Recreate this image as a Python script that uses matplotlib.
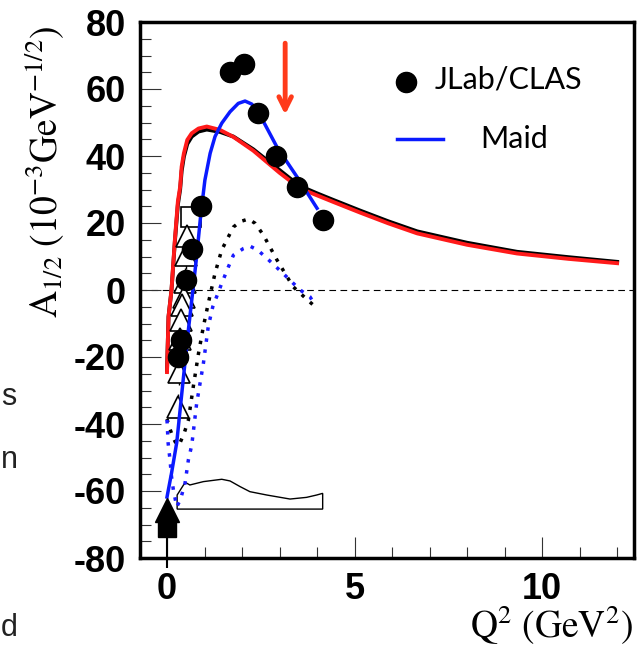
import numpy as np
import matplotlib
matplotlib.use("Agg")
import matplotlib.pyplot as plt

plt.rcParams['axes.unicode_minus'] = False
plt.rcParams['mathtext.fontset'] = 'stix'

# JLab/CLAS data points
clas_q2 = [0.29, 0.37, 0.50, 0.66, 0.90, 1.68, 2.05, 2.43, 2.91, 3.47, 4.16]
clas_a12 = [-20.0, -14.9, 3.0, 12.1, 25.0, 65.1, 67.5, 52.8, 40.0, 30.7, 20.9]

# older data (open triangles / open square)
tri_q2 = [0.53, 0.51, 0.48, 0.45, 0.40, 0.37, 0.34, 0.32, 0.29]
tri_a12 = [16.0, 10.4, 2.5, -2.0, -4.5, -9.0, -14.5, -24.5, -35.0]
sq_q2 = [0.64]
sq_a12 = [21.8]

# photon point
photon_q2 = [0.0]
photon_tri = [-65.7]
photon_sq = [-71.0]

# Maid (blue solid)
maid_q2 = [0, 0.12, 0.26, 0.44, 0.57, 0.66, 0.79, 0.9, 1.01, 1.15, 1.28, 1.46, 1.68, 1.9, 2.08, 2.26, 2.48, 2.93, 3.47, 4.0]
maid_a12 = [-61.8, -54.7, -45.5, -25.9, -11.9, -3.0, 10.0, 22.5, 32.8, 40.8, 45.8, 49.8, 53.2, 55.7, 56.4, 55.5, 52.2, 42.7, 33.7, 24.4]

# model curves (black / red solid)
model_q2 = [0, 0.04, 0.12, 0.21, 0.29, 0.35, 0.39, 0.45, 0.54, 0.66, 0.84, 1.06, 1.41, 1.77, 2.3, 2.66, 3.0, 3.28,
            3.55, 3.99, 4.43, 5.15, 5.9, 6.67, 8.0, 9.33, 10.7, 12.0]
black_a12 = [-24.0, -8.0, 0.0, 14.5, 25.5, 30.0, 35.5, 39.8, 43.6, 45.8, 47.3, 47.9, 47.2, 45.8, 42.0, 38.8, 35.8, 33.3,
             31.0, 28.9, 26.9, 23.7, 20.5, 17.5, 14.1, 11.4, 9.8, 8.4]
red_a12 = [-24.5, -8.0, 0.0, 15.0, 26.5, 30.8, 36.8, 40.8, 44.8, 46.8, 48.2, 48.8, 47.8, 45.7, 41.6, 38.2, 35.0, 32.6,
           30.3, 28.3, 26.3, 23.1, 19.9, 16.9, 13.5, 10.9, 9.3, 8.0]

# dotted curves
bdot_q2 = [0, 0.08, 0.16, 0.25, 0.32, 0.45, 0.57, 0.7, 0.84, 0.97, 1.1, 1.28, 1.46, 1.77, 1.95, 2.17, 2.35, 2.57,
           2.93, 3.36, 3.7, 3.95]
bdot_a12 = [-38.5, -41.5, -44.0, -46.0, -46.3, -43.0, -38.8, -28.9, -18.9, -10.9, -4.0, 5.0, 12.0, 18.8, 20.4, 21.2,
            19.9, 16.4, 9.0, 1.0, -2.5, -5.0]
udot_q2 = [0, 0.03, 0.08, 0.12, 0.17, 0.26, 0.36, 0.48, 0.57, 0.66, 0.79, 0.97, 1.1, 1.22, 1.34, 1.46, 1.64, 1.77,
           2.04, 2.21, 2.42, 2.66, 3.09, 3.55, 3.81, 3.95]
udot_a12 = [-38.8, -45.7, -50.7, -55.7, -59.7, -64.7, -62.5, -57.7, -50.7, -46.3, -33.9, -21.9, -10.9, -5.0, -1.5,
            2.0, 7.0, 10.4, 12.4, 13.1, 11.9, 9.5, 5.0, 0.0, -2.0, -4.5]

# systematic band
band_q2 = [0.27, 0.27, 0.44, 0.5, 0.61, 0.97, 1.46, 1.68, 1.95, 2.21, 2.66, 3.28, 3.72, 3.99, 4.15, 4.15]
band_top = [-65.4, -61.2, -58.2, -57.5, -58.2, -57.2, -56.5, -57.0, -58.7, -60.2, -61.2, -62.4, -61.9, -61.2, -60.7, -65.4]

fig = plt.figure(figsize=(6.38, 6.55), dpi=100)
ax = fig.add_axes([140/638, 97/655, 494/638, 536/655])

ax.axhline(0, color='black', lw=0.8, ls=(0, (6, 4)), zorder=1)
ax.fill(band_q2, band_top, facecolor='white', edgecolor='black', lw=1.0, zorder=2)

ax.plot(bdot_q2, bdot_a12, color='black', lw=2.5, ls=(0, (1, 2.2)), zorder=3)
ax.plot(udot_q2, udot_a12, color='#1a1aff', lw=2.5, ls=(0, (1, 2.2)), zorder=3)
ax.plot(model_q2, black_a12, color='black', lw=2.8, zorder=4, solid_joinstyle='round')
ax.plot(model_q2, red_a12, color='#ff1a1a', lw=2.8, zorder=4, solid_joinstyle='round')

ax.errorbar(tri_q2, tri_a12, yerr=4, fmt='^', ms=16, mfc='white', mec='black', mew=1.2,
            ecolor='black', elinewidth=1.0, capsize=0, zorder=5)
ax.plot(sq_q2, sq_a12, 's', ms=15, mfc='white', mec='black', mew=1.2, zorder=5)
ax.plot(maid_q2, maid_a12, color='#0a1aff', lw=2.5, zorder=6, solid_joinstyle='round')

ax.errorbar(photon_q2, photon_sq, yerr=[[12], [0]], fmt='s', ms=13, color='black',
            elinewidth=1.5, capsize=0, zorder=7, clip_on=False)
ax.plot(photon_q2, photon_tri, '^', ms=17, color='black', zorder=7)
ax.plot(clas_q2, clas_a12, 'o', ms=14.5, color='black', zorder=8)

ax.annotate('', xy=(3.15, 51.5), xytext=(3.15, 74.5),
            arrowprops=dict(arrowstyle='->,head_length=0.9,head_width=0.45', color='#ff3a1a', lw=3.5),
            zorder=9)

# legend
ax.plot([0.538], [0.888], 'o', ms=14.5, color='black', transform=ax.transAxes)
ax.plot([0.52, 0.613], [0.782, 0.782], color='#0a1aff', lw=2.5, transform=ax.transAxes)
ax.text(0.597, 0.892, 'JLab/CLAS', transform=ax.transAxes, family='Lato', fontsize=22, va='center')
ax.text(0.688, 0.782, 'Maid', transform=ax.transAxes, family='Lato', fontsize=22, va='center')

ax.set_xlim(-0.72, 12.45)
ax.set_ylim(-80, 80)
ax.set_xticks([0, 5, 10])
ax.set_xticks(np.arange(1, 13), minor=True)
ax.set_yticks(np.arange(-80, 81, 20))
ax.set_yticks(np.arange(-80, 81, 5), minor=True)
ax.tick_params(which='both', direction='in', top=False, right=False, color='#333333', width=0.8)
ax.tick_params(which='major', length=15, pad=10)
ax.tick_params(which='minor', length=8)
for lab in ax.get_xticklabels() + ax.get_yticklabels():
    lab.set_family('Liberation Sans')
    lab.set_fontweight('bold')
    lab.set_fontsize(26)
for sp in ax.spines.values():
    sp.set_linewidth(2.5)

fig.text(45/638, (655-172)/655, r'$\mathrm{A}_{1/2}\ (10^{-3}\mathrm{GeV}^{-1/2})$',
         rotation=90, fontsize=27, ha='center', va='center')
fig.text(633/638, 8/655, r'$\mathrm{Q}^{2}\ (\mathrm{GeV}^{2})$', fontsize=27, ha='right', va='bottom')

# text fragments from the neighbouring column, kept just inside the left edge
fig.text(1/638, (655-405)/655, 's', family='Liberation Sans', fontsize=22, color='#222222')
fig.text(1/638, (655-468)/655, 'n', family='Liberation Sans', fontsize=22, color='#222222')
fig.text(1/638, (655-636)/655, 'd', family='Liberation Sans', fontsize=22, color='#222222')

fig.savefig('out.png', dpi=100)
